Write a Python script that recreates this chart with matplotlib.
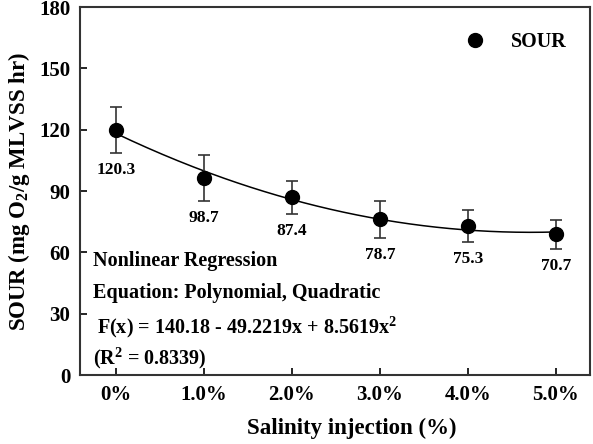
import numpy as np
import matplotlib
matplotlib.use("Agg")
import matplotlib.pyplot as plt
from matplotlib.lines import Line2D

# data
categories = ["0%", "1.0%", "2.0%", "3.0%", "4.0%", "5.0%"]
sour = [119.9, 96.5, 86.9, 76.2, 72.9, 68.8]
sour_err = [11.2, 11.2, 8.1, 9.0, 8.0, 7.3]
value_labels = ["120.3", "98.7", "87.4", "78.7", "75.3", "70.7"]

plt.rcParams["font.family"] = ["Liberation Serif", "DejaVu Serif"]
plt.rcParams["font.weight"] = "bold"
plt.rcParams["mathtext.fontset"] = "custom"
plt.rcParams["mathtext.rm"] = "Liberation Serif:bold"
plt.rcParams["mathtext.bf"] = "Liberation Serif:bold"

fig = plt.figure(figsize=(5.93, 4.44), dpi=100)
ax = fig.add_axes([0.135, 0.155, 0.86, 0.829])

x = np.arange(len(categories))

# quadratic fit line
coef = np.polyfit(x, sour, 2)
xs = np.linspace(x[0], x[-1], 200)
ax.plot(xs, np.polyval(coef, xs), color="black", lw=1.1, zorder=2)

ax.errorbar(x, sour, yerr=sour_err, fmt="o", color="black", ecolor="#333333",
            elinewidth=1.2, capsize=4, capthick=1.2, markersize=10, zorder=3)

for xi, yi, ei, lab in zip(x, sour, sour_err, value_labels):
    ax.annotate(lab, (xi, yi - ei), xytext=(0, -17), textcoords="offset pixels",
                ha="center", va="center", fontsize=12.5, fontweight="bold")

ax.set_xlim(-0.41, 5.39)
ax.set_ylim(0, 180)
ax.set_yticks(range(0, 181, 30))
ax.set_xticks(x)
ax.set_xticklabels(categories)
ax.tick_params(direction="in", length=5, width=1.2, labelsize=15, pad=7)
for lab in ax.get_xticklabels() + ax.get_yticklabels():
    lab.set_fontweight("bold")
for sp in ax.spines.values():
    sp.set_linewidth(1.5)
    sp.set_color("#333333")

ax.set_xlabel("Salinity injection (%)", fontsize=16.5, fontweight="bold", va="center")
ax.xaxis.set_label_coords(0.533, -0.144)
ax.set_ylabel(r"SOUR (mg O$_2$/g MLVSS hr)", fontsize=16.5, fontweight="bold", labelpad=5)

fs = 14.5
ax.text(0.025, 0.309, "Nonlinear Regression", transform=ax.transAxes,
        fontsize=fs, fontweight="bold", va="center")
ax.text(0.025, 0.224, "Equation: Polynomial, Quadratic", transform=ax.transAxes,
        fontsize=fs, fontweight="bold", va="center")
ax.text(0.033, 0.132, r"F(x) = 140.18 - 49.2219x + 8.5619x$^2$", transform=ax.transAxes,
        fontsize=fs, fontweight="bold", va="center")
ax.text(0.025, 0.046, r"(R$^2$ = 0.8339)", transform=ax.transAxes,
        fontsize=fs, fontweight="bold", va="center")

handle = Line2D([], [], ls="none", marker="o", color="black", markersize=10)
ax.legend([handle], ["SOUR"], loc="upper right", bbox_to_anchor=(0.99, 0.982),
          frameon=False, handlelength=1.2, handletextpad=1.2,
          prop={"weight": "bold", "size": 14.5})

fig.savefig("out.png", dpi=100)
